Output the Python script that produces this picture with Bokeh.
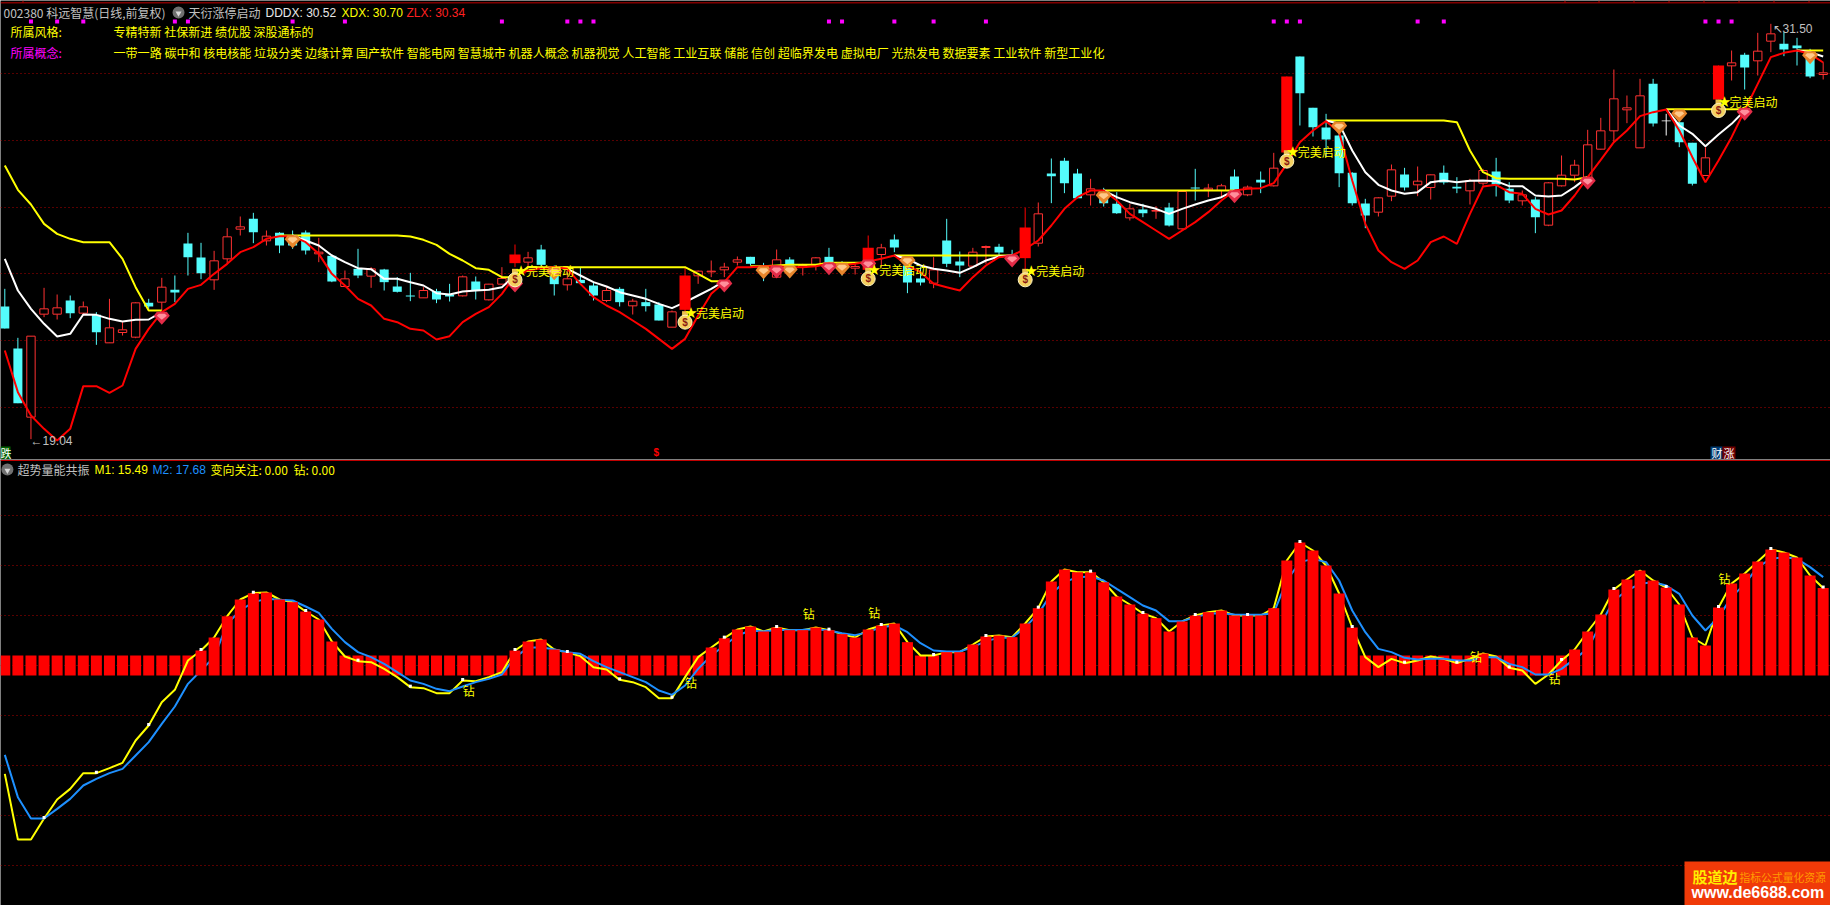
from bokeh.plotting import figure
from bokeh.layouts import column
from bokeh.models import Label, Span, FixedTicker, BoxAnnotation
from bokeh.core.properties import value
from bokeh.embed import file_html
from bokeh.resources import INLINE

N = float("nan")

OPEN = [23.02,21.76,19.70,22.79,22.79,23.20,22.82,22.77,21.93,22.24,22.10,23.13,23.15,23.52,24.91,24.49,23.82,24.45,25.34,25.65,
        24.99,25.23,25.15,25.24,24.60,24.54,23.62,24.15,23.93,24.13,23.62,23.35,23.28,23.48,23.38,23.34,23.77,23.22,23.69,24.32,
        24.35,24.73,23.95,23.67,23.82,23.65,23.20,23.55,23.04,23.15,23.08,22.40,22.92,23.94,24.06,24.12,24.35,24.51,24.25,23.90,
        24.43,24.20,24.25,24.51,24.25,24.17,24.12,24.58,25.03,24.25,23.86,23.72,25.00,24.37,24.23,24.79,24.81,24.55,24.47,24.92,
        27.01,27.39,27.01,26.37,26.47,26.10,25.68,25.93,25.88,25.99,25.35,26.59,26.52,26.50,26.92,26.37,26.82,26.64,27.64,30.52,
        28.98,28.39,28.15,27.03,26.11,25.85,26.33,26.98,26.67,26.59,27.03,26.61,26.49,26.72,27.07,26.55,26.19,26.23,25.46,26.64,
        26.96,26.90,27.74,28.29,28.92,27.78,29.70,28.58,28.55,27.93,26.95,29.23,30.24,30.57,30.39,30.98,30.90,30.85,30.45,29.98]
CLOSE = [22.36,20.12,22.13,22.95,22.98,22.82,23.01,22.25,22.38,22.32,23.13,23.02,23.60,23.44,24.50,24.02,24.39,25.11,25.41,25.25,
         25.13,24.85,24.85,24.70,24.65,23.77,23.85,23.95,24.15,23.75,23.46,23.32,23.50,23.23,23.32,23.91,23.50,23.69,23.86,24.58,
         24.48,24.27,23.69,23.85,23.72,23.35,23.50,23.15,23.18,23.03,22.60,22.86,23.95,24.08,24.08,24.20,24.42,24.30,24.10,24.42,
         24.20,24.25,24.48,24.20,24.15,24.22,24.78,24.78,24.79,23.74,23.74,24.12,24.30,24.25,24.65,24.82,24.64,24.45,25.39,25.80,
         26.93,26.72,26.27,26.55,26.12,25.82,25.95,25.82,25.90,25.45,26.47,26.56,26.57,26.64,26.52,26.60,26.74,27.17,29.92,29.42,
         28.40,28.03,27.02,26.12,25.75,26.28,27.12,26.59,26.78,26.97,26.74,26.56,26.80,27.10,26.68,26.20,26.37,25.70,26.73,26.96,
         27.26,27.87,28.29,29.25,28.98,29.34,28.51,28.60,27.95,26.70,27.48,30.25,30.33,30.19,30.68,31.20,30.73,30.77,29.92,30.03]
HIGH = [23.55,22.08,22.13,23.58,23.38,23.35,23.17,22.85,23.25,22.55,23.15,23.25,23.88,23.95,25.23,24.93,24.69,25.37,25.72,25.83,
        25.30,25.25,25.30,25.30,25.08,24.58,24.10,24.75,24.20,24.15,23.90,24.03,23.60,23.55,23.70,23.95,23.92,23.70,24.20,24.88,
        24.66,24.87,24.25,24.20,24.20,23.75,23.60,23.60,23.25,23.55,23.15,22.90,24.20,24.10,24.40,24.33,24.52,24.51,24.33,24.73,
        24.50,24.30,24.50,24.78,24.38,24.30,25.15,24.90,25.18,24.50,24.20,24.50,25.65,24.67,24.78,24.85,24.90,24.72,25.98,26.14,
        27.46,27.48,27.15,26.85,26.58,26.45,26.10,26.10,26.03,26.13,26.47,27.15,26.70,26.70,27.13,26.65,27.07,27.63,29.92,30.52,
        28.98,28.80,28.55,27.05,26.25,26.30,27.28,27.18,27.22,26.98,27.25,26.90,26.85,27.15,27.48,26.75,26.50,26.30,26.75,27.55,
        27.42,28.32,28.68,30.13,29.35,29.85,29.85,28.80,28.65,27.93,27.80,30.25,30.70,30.63,31.23,31.50,31.25,31.08,30.75,30.35]
LOW = [22.36,20.12,19.04,22.70,22.63,22.67,22.75,21.87,21.93,22.15,22.07,22.95,22.90,23.15,23.95,23.84,23.52,24.30,25.15,24.92,
       24.85,24.62,24.75,24.58,24.35,23.75,23.60,23.87,23.58,23.50,23.44,23.18,23.28,23.12,23.17,23.32,23.23,23.20,23.68,24.20,
       24.20,24.20,23.35,23.50,23.70,23.20,23.15,23.02,22.78,22.87,22.60,22.40,22.85,23.70,23.90,23.90,24.25,24.25,23.78,23.88,
       23.88,23.95,24.10,24.05,23.95,23.98,24.05,24.20,24.65,23.42,23.65,23.57,24.20,23.90,24.20,24.30,24.50,24.40,24.05,24.82,
       26.12,26.42,26.27,26.05,26.02,25.80,25.60,25.70,25.65,25.42,25.32,26.20,26.30,26.30,26.35,26.33,26.42,26.62,27.50,28.45,
       28.12,27.50,26.60,26.05,25.37,25.72,26.18,26.50,26.33,26.23,26.68,26.42,26.08,26.65,26.32,26.12,26.05,25.22,25.43,26.62,
       26.75,26.90,27.73,27.95,28.52,27.78,28.42,28.15,27.80,26.65,26.95,29.23,29.80,29.53,29.95,30.65,30.53,30.25,29.87,29.83]
SOLID_RED = [39, 52, 66, 78, 98, 131]
WHITE_DOJI = [127]

XDX = [27.25,26.52,26.08,25.50,25.20,25.05,24.95,24.95,24.95,24.45,23.60,22.90,22.90,N,N,N,N,N,N,N,
       N,25.15,25.15,25.15,25.15,25.15,25.15,25.15,25.15,25.15,25.15,25.12,25.02,24.87,24.60,24.40,24.17,24.12,23.90,23.90,
       24.20,24.20,24.20,24.20,24.20,24.20,24.20,24.20,24.20,24.20,24.20,24.20,24.20,24.00,23.78,23.78,N,24.23,24.23,24.25,
       24.27,24.27,24.27,24.33,24.33,24.33,24.33,N,24.55,24.55,24.55,24.55,24.55,24.55,24.55,24.55,24.55,24.55,N,N,
       N,N,N,N,26.50,26.50,26.50,26.50,26.50,26.50,26.50,26.50,26.50,26.50,26.50,N,N,N,N,N,
       N,28.60,28.60,28.60,28.60,28.60,28.60,28.60,28.60,28.60,28.60,28.55,27.70,27.05,26.87,26.85,26.85,26.85,26.85,26.85,
       26.83,26.90,N,N,N,N,N,28.94,28.94,28.94,28.94,28.94,28.94,28.94,N,N,N,30.70,30.70,30.70]
DDDX = [24.45,23.50,22.95,22.50,22.12,22.20,22.78,22.77,22.65,22.57,22.62,22.63,22.85,N,N,N,N,N,N,N,
        N,N,25.15,25.00,24.85,24.55,24.35,24.17,24.14,23.85,23.85,23.75,23.65,23.42,23.38,23.47,23.50,23.52,23.60,23.95,
        N,N,N,24.15,23.95,23.75,23.62,23.45,23.35,23.25,23.10,22.97,23.15,23.35,23.55,23.78,N,N,N,N,
        N,N,N,N,N,N,N,N,24.55,24.45,24.25,24.15,24.10,24.03,24.20,24.40,24.52,24.55,N,N,
        N,N,N,N,26.50,26.30,26.15,26.05,25.95,25.80,25.95,26.08,26.20,26.30,26.50,N,N,N,N,N,
        N,28.60,28.50,27.70,27.05,26.67,26.50,26.40,26.45,26.75,26.80,26.75,26.79,26.80,26.78,26.63,26.63,26.35,26.32,26.35,
        26.60,26.90,N,N,N,N,N,28.94,28.45,28.20,27.83,28.18,28.50,28.90,N,N,N,30.70,30.65,30.52]
ZLX = [21.70,20.45,19.75,19.35,19.00,19.35,20.63,20.63,20.43,20.65,21.75,22.35,22.85,23.10,23.55,23.67,24.00,24.30,24.65,24.80,
       25.05,25.13,25.13,24.95,24.60,24.00,23.65,23.25,23.05,22.65,22.55,22.35,22.30,22.03,22.13,22.55,22.80,23.00,23.40,23.95,
       24.10,24.17,24.20,24.15,23.70,23.30,23.05,22.85,22.60,22.35,22.05,21.75,22.05,22.75,23.40,23.75,24.20,24.20,24.23,24.23,
       24.20,24.20,24.23,24.30,24.25,24.30,24.37,24.45,24.55,24.25,24.05,23.70,23.60,23.50,23.90,24.25,24.50,24.55,24.75,25.00,
       25.45,25.95,26.30,26.50,26.50,26.20,25.80,25.55,25.30,25.05,25.30,25.55,25.85,26.20,26.50,26.55,26.57,26.72,27.30,27.95,
       28.30,28.58,28.25,26.80,25.50,24.70,24.35,24.15,24.40,24.95,25.12,24.90,25.80,26.62,26.67,26.45,26.40,25.95,25.78,25.90,
       26.35,26.90,27.42,27.95,28.30,28.73,28.85,28.93,28.30,27.50,26.75,27.40,28.10,28.90,29.70,30.50,30.63,30.70,30.60,30.34]

M1 = [-21.67,-34.8,-34.8,-30.6,-26.8,-24.67,-21.53,-21.53,-20.53,-19.47,-15.0,-12.0,-7.33,-4.87,1.0,3.0,5.6,9.87,13.2,14.47,
      14.6,13.2,12.67,10.8,9.2,4.8,1.8,0.87,0.67,-0.67,-2.33,-4.33,-4.53,-5.53,-5.53,-3.0,-3.13,-2.33,-1.33,3.0,
      4.8,5.2,3.2,2.6,1.87,-0.33,-0.8,-2.87,-3.33,-4.33,-6.53,-6.53,-2.33,1.67,3.6,5.47,7.2,7.8,6.8,7.6,
      7.07,7.07,7.6,7.07,6.27,5.6,7.2,8.0,8.4,4.67,2.0,2.0,2.67,2.67,4.2,5.8,6.0,5.67,8.4,11.47,
      16.8,19.2,18.67,18.67,16.67,13.8,12.2,10.4,9.47,6.8,8.8,10.0,10.67,11.0,10.0,10.0,10.0,11.47,21.0,24.6,
      23.0,20.0,14.4,7.6,1.67,-0.33,1.33,0.47,1.0,1.8,1.33,0.47,1.33,2.4,1.8,-0.47,-1.0,-3.67,-1.8,1.0,
      3.2,6.8,10.2,15.2,17.2,19.0,17.0,15.6,12.2,5.6,4.0,11.6,16.4,18.4,20.8,23.2,22.6,21.6,18.0,15.49]
M2 = [-17.87,-26.33,-30.6,-30.6,-28.67,-26.67,-24.0,-22.67,-21.53,-20.67,-18.0,-15.33,-11.67,-8.2,-3.67,-1.0,1.67,8.33,11.0,12.67,
      13.33,13.13,13.0,11.8,10.53,7.33,4.67,2.67,1.67,0.33,-1.33,-3.0,-3.67,-4.67,-5.13,-4.2,-3.33,-2.67,-1.8,1.67,
      3.53,3.67,3.2,2.67,2.33,0.87,-0.33,-1.33,-2.33,-3.33,-5.0,-5.87,-4.0,-0.67,2.0,4.0,6.0,7.0,6.8,7.13,
      7.07,7.13,7.27,7.0,6.47,6.07,6.67,7.67,8.0,6.67,4.47,3.0,2.8,2.8,3.67,4.87,5.53,5.53,7.67,10.33,
      14.33,16.67,17.67,17.8,17.0,15.33,13.67,12.0,11.0,8.87,8.87,9.67,10.33,10.47,10.2,10.13,10.13,10.47,17.0,20.67,
      21.33,20.67,17.0,11.0,6.67,3.33,2.67,1.53,1.2,1.33,1.33,1.0,1.0,1.67,1.67,0.33,-0.33,-1.8,-1.8,-0.67,
      1.33,3.33,8.33,13.0,15.0,16.33,16.67,16.0,14.33,10.0,7.0,9.67,13.67,16.33,19.67,21.33,21.67,21.33,19.67,17.68]

MAGENTA_I = [2,4,6,13,14,22,26,38,43,44,45,63,64,68,71,75,97,98,99,108,110,130,131,132]
GEM_RED_I = [12,39,55,59,63,66,77,94,121,133]
GEM_RED_P = [22.68,23.65,23.65,24.07,24.17,24.25,24.40,26.33,26.73,28.80]
GEM_ORG_I = [22,42,58,60,64,69,84,102,128,138]
GEM_ORG_P = [24.98,24.02,24.05,24.07,24.15,24.35,26.30,28.38,28.75,30.50]
BAG_I = [39,52,66,78,98,131]
BAG_P = [23.82,22.55,23.85,23.82,27.38,28.90]
START_P = [24.10,22.83,24.12,24.10,27.67,29.17]
DIAMOND_I = [35,52,61,66,112,118,131]
DIAMOND_V = [-5.0,-3.47,10.33,10.53,1.8,-2.67,17.47]
GRID_PRICE = [30,28,26,24,22,20]
GRID_VOL = [30,20,10,0,-10,-20,-30,-40]
TOP_TICKS = [22,1564,1598,1633,1668,1703,1738,1773,1808]

TITLE = "002380 科远智慧(日线,前复权)"
STYLE = "专精特新 社保新进 绩优股 深股通标的"
CONCEPT = "一带一路 碳中和 核电核能 垃圾分类 边缘计算 国产软件 智能电网 智慧城市 机器人概念 机器视觉 人工智能 工业互联 储能 信创 超临界发电 虚拟电厂 光热发电 数据要素 工业软件 新型工业化"

W, H1, H2 = 1830, 459, 446
XR = (-0.329, 139.56)
FONT = "Noto Sans CJK SC"
CYAN, RED, BG = "#54fcfc", "#ff3232", "#000000"
IDX = list(range(len(OPEN)))


def make(h, yr, ticks):
    p = figure(width=W, height=h, x_range=XR, y_range=yr, output_backend="svg", toolbar_location=None,
               background_fill_color=BG, border_fill_color=BG, outline_line_color=None, min_border=0)
    p.xaxis.visible = False
    p.yaxis.visible = False
    p.xgrid.visible = False
    p.ygrid.ticker = FixedTicker(ticks=ticks)
    p.ygrid.grid_line_color = "#b00000"
    p.ygrid.grid_line_dash = "1 3"
    p.ygrid.grid_line_width = 1
    return p


def lab(p, h, x, y, text, color, size=12, font=FONT, style="normal"):
    p.add_layout(Label(x=x, y=h - y, x_units="screen", y_units="screen", text=text, text_color=color,
                       text_font=font, text_font_size=f"{size}px", text_baseline="middle", text_font_style=style))


def box(p, left, right, t, b, color):
    p.add_layout(BoxAnnotation(left=left, right=right, top=t, bottom=b, left_units="screen", right_units="screen",
                               top_units="screen", bottom_units="screen", fill_color=color, fill_alpha=1, line_color=None))


def gem(p, idx, price, base, light):
    dx, dy = 1 / 13.082, 1 / 33.333
    xs = [[i - 8 * dx, i - 5 * dx, i + 5 * dx, i + 8 * dx, i] for i in idx]
    ys = [[v + 2 * dy, v + 6 * dy, v + 6 * dy, v + 2 * dy, v - 7 * dy] for v in price]
    p.patches(xs, ys, fill_color=base, line_color=None)
    xs2 = [[i - 5 * dx, i - 3 * dx, i + 3 * dx, i + 5 * dx, i] for i in idx]
    ys2 = [[v + 2 * dy, v + 4 * dy, v + 4 * dy, v + 2 * dy, v - 2 * dy] for v in price]
    p.patches(xs2, ys2, fill_color=light, line_color=None)


top = make(H1, (18.43, 32.2), GRID_PRICE)

up = [i for i in IDX if CLOSE[i] >= OPEN[i] and i not in SOLID_RED and i not in WHITE_DOJI]
dn = [i for i in IDX if CLOSE[i] < OPEN[i] and i not in WHITE_DOJI]

top.segment(up, [LOW[i] for i in up], up, [HIGH[i] for i in up], line_color=RED, line_width=1)
top.segment(dn, [LOW[i] for i in dn], dn, [HIGH[i] for i in dn], line_color=CYAN, line_width=1)
top.segment(SOLID_RED, [LOW[i] for i in SOLID_RED], SOLID_RED, [HIGH[i] for i in SOLID_RED], line_color="#ff0000", line_width=1)
top.segment(WHITE_DOJI, [LOW[i] for i in WHITE_DOJI], WHITE_DOJI, [HIGH[i] for i in WHITE_DOJI], line_color="#ffffff", line_width=1)
top.vbar(up, width=0.64, bottom=[OPEN[i] for i in up], top=[CLOSE[i] for i in up], fill_color=BG, line_color=RED, line_width=1)
top.vbar(dn, width=0.69, bottom=[CLOSE[i] for i in dn], top=[OPEN[i] for i in dn], fill_color=CYAN, line_color=None)
top.vbar(WHITE_DOJI, width=0.69, bottom=[OPEN[i] for i in WHITE_DOJI], top=[CLOSE[i] for i in WHITE_DOJI], fill_color="#ffffff", line_color=None)

top.line(IDX, XDX, line_color="#ffff00", line_width=2)
top.line(IDX, DDDX, line_color="#ffffff", line_width=2)
top.line(IDX, ZLX, line_color="#ff0000", line_width=2)
top.vbar(SOLID_RED, width=0.85, bottom=[OPEN[i] for i in SOLID_RED], top=[CLOSE[i] for i in SOLID_RED], fill_color="#ff0000", line_color=None)

top.scatter(MAGENTA_I, [31.57] * len(MAGENTA_I), marker="square", size=4, fill_color="#ff00ff", line_color=None)
gem(top, GEM_ORG_I, GEM_ORG_P, "#e8862c", "#ffc98a")
gem(top, GEM_RED_I, GEM_RED_P, "#e42c48", "#ff8f9c")

top.scatter(BAG_I, [v + 0.24 for v in BAG_P], marker="square", size=6, fill_color="#e8c050", line_color=None)
top.scatter(BAG_I, BAG_P, marker="circle", size=14, fill_color="#f4d060", line_color="#fff4c0", line_width=1)
top.text(BAG_I, BAG_P, text=["$"] * len(BAG_I), text_color="#8a1a10", text_font=value("Liberation Sans"),
         text_font_size="10px", text_font_style="bold", text_align="center", text_baseline="middle")
top.text(BAG_I, START_P, text=["★"] * len(BAG_I), x_offset=6, text_color="#ffff00", text_font=value("DejaVu Sans"),
         text_font_size="15px", text_align="center", text_baseline="middle")
top.text(BAG_I, START_P, text=["完美启动"] * len(BAG_I), x_offset=11, text_color="#ffff00", text_font=value(FONT),
         text_font_size="12px", text_align="left", text_baseline="middle")

top.add_layout(Span(location=32.13, dimension="width", line_color="#c00000", line_width=1))
for t in TOP_TICKS:
    box(top, t, t + 1, H1, H1 - 2, "#c00000")

lab(top, H1, 3, 12, TITLE, "#c0c0c0")
top.scatter([13.28], [31.84], marker="circle", size=12, fill_color="#707070", line_color=None)
top.scatter([13.28], [31.82], marker="inverted_triangle", size=6, fill_color="#d8d8d8", line_color=None)
lab(top, H1, 188, 12, "天衍涨停启动", "#c0c0c0")
lab(top, H1, 265, 12, "DDDX: 30.52", "#e8e8e8", font="Liberation Sans")
lab(top, H1, 341, 12, "XDX: 30.70", "#ffff00", font="Liberation Sans")
lab(top, H1, 406, 12, "ZLX: 30.34", "#ff2020", font="Liberation Sans")
lab(top, H1, 10, 31, "所属风格:", "#ffff00")
lab(top, H1, 113, 31, STYLE, "#ffff00")
lab(top, H1, 10, 52, "所属概念:", "#ff00ff")
lab(top, H1, 113, 52, CONCEPT, "#ffff00", size=12.06)
lab(top, H1, 30, 440, "←19.04", "#c0c0c0", font="Liberation Sans")
lab(top, H1, 1772, 28, "↖31.50", "#c0c0c0", font="Liberation Sans")

box(top, 0, 10, 13, 0, "#006000")
lab(top, H1, 0, 452, "跌", "#ffffff", size=11)
lab(top, H1, 653, 452, "$", "#ff0000", size=10, font="Liberation Sans", style="bold")
box(top, 1710, 1722, 13, 0, "#003a70")
box(top, 1722, 1735, 13, 0, "#700000")
lab(top, H1, 1711, 452, "财", "#ffffff", size=11)
lab(top, H1, 1723, 452, "涨", "#ffffff", size=11)

bot = make(H2, (-48.0, 41.2), GRID_VOL)
BAR = [max(m, 2.0) for m in M1]
low_i = [i for i in IDX if BAR[i] <= 2.0]
tall_i = [i for i in IDX if BAR[i] > 2.0]
bot.vbar(low_i, width=0.84, bottom=-2, top=[BAR[i] for i in low_i], fill_color="#ff0000", line_color=None)
bot.line(IDX, M1, line_color="#ffff00", line_width=2)
bot.line(IDX, M2, line_color="#1e90ff", line_width=2)
bot.vbar(tall_i, width=0.84, bottom=-2, top=[BAR[i] for i in tall_i], fill_color="#ff0000", line_color=None)
tick_i = IDX[3::4]
bot.scatter(tick_i, [M1[i] + 0.2 for i in tick_i], marker="square", size=3, fill_color="#ffffff", line_color=None)
bot.text(DIAMOND_I, DIAMOND_V, text=["钻"] * len(DIAMOND_I), text_color="#ffff00", text_font=value(FONT),
         text_font_size="12px", text_align="left", text_baseline="middle")
bot.add_layout(Span(location=41.0, dimension="width", line_color="#c00000", line_width=1))

bot.scatter([0.2], [39.2], marker="circle", size=12, fill_color="#707070", line_color=None)
bot.scatter([0.2], [39.0], marker="inverted_triangle", size=6, fill_color="#d8d8d8", line_color=None)
lab(bot, H2, 17, 10, "超势量能共振", "#c0c0c0")
lab(bot, H2, 94, 10, "M1: 15.49", "#ffff00", font="Liberation Sans")
lab(bot, H2, 152, 10, "M2: 17.68", "#1e90ff", font="Liberation Sans")
lab(bot, H2, 210, 10, "变向关注: 0.00", "#ffff00")
lab(bot, H2, 293, 10, "钻: 0.00", "#ffff00")

box(bot, 1684, 1830, 44, 0, "#f03a08")
lab(bot, H2, 1692, 417, "股道边", "#ffee00", size=15, style="bold")
lab(bot, H2, 1739, 417, "指标公式量化资源", "#ff9a00", size=10.8)
lab(bot, H2, 1691, 433, "www.de6688.com", "#ffffff", size=16, font="Liberation Sans", style="bold")

page = column(top, bot, spacing=0)
open("out.html", "w").write(file_html(page, INLINE))
